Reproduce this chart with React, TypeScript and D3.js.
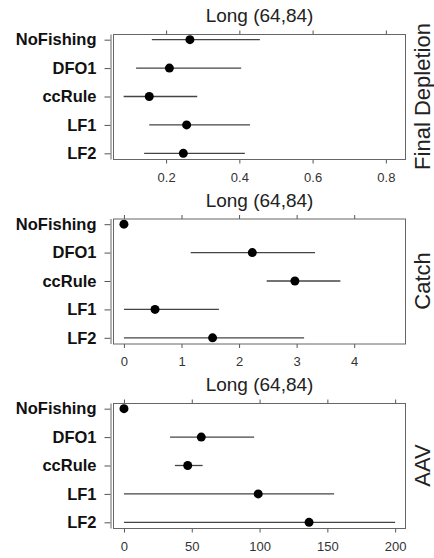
import React, { useEffect, useRef } from "react";
import * as d3 from "d3";

// management procedures (rows, top to bottom)
const rules = ["NoFishing", "DFO1", "ccRule", "LF1", "LF2"];
const panelTitle = "Long (64,84)";
const metrics = ["Final Depletion", "Catch", "AAV"];

// Final depletion: median and interval
const depletionMid = [0.265, 0.209, 0.154, 0.256, 0.247];
const depletionLow = [0.161, 0.118, 0.084, 0.154, 0.14];
const depletionHigh = [0.456, 0.405, 0.285, 0.429, 0.415];

// Catch
const catchMid = [0, 2.23, 2.97, 0.54, 1.54];
const catchLow = [0, 1.16, 2.48, 0, 0];
const catchHigh = [0, 3.32, 3.76, 1.65, 3.13];

// AAV
const aavMid = [0, 57, 47, 99, 136.5];
const aavLow = [0, 34, 37.6, 0, 0];
const aavHigh = [0, 96, 58, 155, 200];

// axis ticks and limits
const depletionTicks = [0.2, 0.4, 0.6, 0.8];
const catchTicks = [0, 1, 2, 3, 4];
const aavTicks = [0, 50, 100, 150, 200];

const depletionDomain = [0.055, 0.855];
const catchDomain = [-0.19, 4.9];
const aavDomain = [-8.1, 208];

const font = "'Liberation Sans', Arial, Helvetica, sans-serif";

export default function App() {
  const ref = useRef<SVGSVGElement>(null);

  useEffect(() => {
    const svg = d3.select(ref.current);
    svg.selectAll("*").remove();

    const panels = [
      { mid: depletionMid, low: depletionLow, high: depletionHigh, ticks: depletionTicks, domain: depletionDomain },
      { mid: catchMid, low: catchLow, high: catchHigh, ticks: catchTicks, domain: catchDomain },
      { mid: aavMid, low: aavLow, high: aavHigh, ticks: aavTicks, domain: aavDomain },
    ];

    var left = 113, right = 406, h = 125;

    panels.forEach((p, i) => {
      var top = 34 + i * 184.5;
      const g = svg.append("g");

      const x = d3.scaleLinear().domain(p.domain).range([left, right]);
      const y = d3.scalePoint().domain(rules).range([top, top + h]).padding(0.2);

      // title above the panel
      g.append("text")
        .attr("x", (left + right) / 2)
        .attr("y", top - 12)
        .attr("text-anchor", "middle")
        .style("font-family", font)
        .style("font-size", "19px")
        .style("fill", "#222")
        .text(panelTitle);

      // metric label on the right
      g.append("text")
        .attr("transform", `translate(430, ${top + h / 2}) rotate(-90)`)
        .attr("text-anchor", "middle")
        .style("font-family", font)
        .style("font-size", "22px")
        .style("fill", "#222")
        .text(metrics[i]);

      // bottom axis with labels
      const xb = g.append("g")
        .attr("transform", `translate(0, ${top + h + 0.5})`)
        .call(d3.axisBottom(x).tickValues(p.ticks).tickSize(4).tickPadding(9).tickFormat(d3.format("")));
      xb.select(".domain").remove();
      xb.selectAll("line").attr("stroke", "#555");
      xb.selectAll("text").style("font-family", font).style("font-size", "13px").style("fill", "#333");

      // top ticks, no labels
      const xt = g.append("g")
        .attr("transform", `translate(0, ${top + 0.5})`)
        .call(d3.axisTop(x).tickValues(p.ticks).tickSize(4).tickFormat(() => ""));
      xt.select(".domain").remove();
      xt.selectAll("line").attr("stroke", "#555");

      // left category axis
      const ya = g.append("g")
        .attr("transform", "translate(110.5, 0)")
        .call(d3.axisLeft(y).tickSize(6).tickSizeOuter(0).tickPadding(8));
      ya.select(".domain").attr("stroke", "#666");
      ya.selectAll("line").attr("stroke", "#555");
      ya.selectAll("text")
        .style("font-family", font)
        .style("font-size", "16.5px")
        .style("font-weight", "bold")
        .style("fill", "#111");

      // panel box
      g.append("rect")
        .attr("x", left + 0.5)
        .attr("y", top + 0.5)
        .attr("width", right - left - 1)
        .attr("height", h)
        .attr("fill", "none")
        .attr("stroke", "#666")
        .attr("stroke-width", 1);

      // intervals
      g.selectAll(".bar")
        .data(rules)
        .join("line")
        .attr("x1", (d, j) => x(p.low[j]))
        .attr("x2", (d, j) => x(p.high[j]))
        .attr("y1", d => y(d)!)
        .attr("y2", d => y(d)!)
        .attr("stroke", "#444")
        .attr("stroke-width", 1.3);

      // medians
      g.selectAll(".pt")
        .data(rules)
        .join("circle")
        .attr("cx", (d, j) => x(p.mid[j]))
        .attr("cy", d => y(d)!)
        .attr("r", 4.5)
        .attr("fill", "#000");
    });
  }, []);

  return (
    <svg
      ref={ref}
      width={434}
      height={558}
      style={{ position: "absolute", left: 0, top: 0, background: "#fff" }}
    />
  );
}
